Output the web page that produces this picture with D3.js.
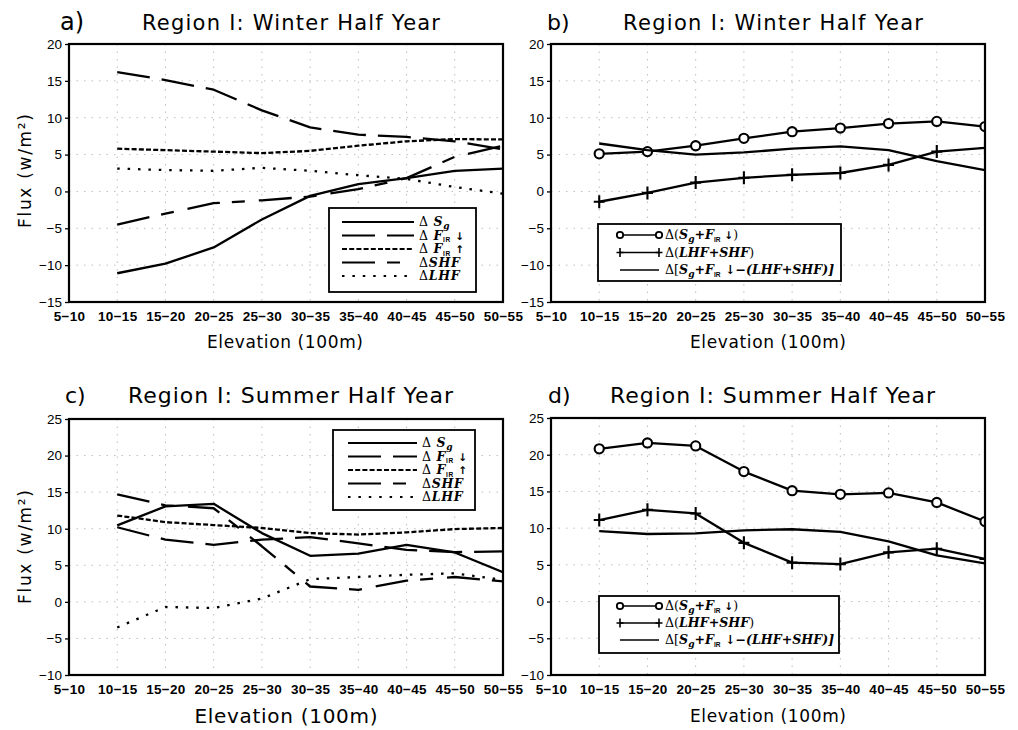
<!DOCTYPE html>
<html>
<head>
<meta charset="utf-8">
<script src="https://cdn.jsdelivr.net/npm/d3@7"></script>
<style>
  body { margin: 0; background: #fff; }
  svg { display: block; }
</style>
</head>
<body>
<svg id="chart" width="1018" height="730"></svg>
<script>
// ---- data ---------------------------------------------------------------
// Elevation bands (hundreds of metres); the series start at the second band.
const bands = ["5-10", "10-15", "15-20", "20-25", "25-30", "30-35", "35-40", "40-45", "45-50", "50-55"];
const seriesBands = bands.slice(1);

const winterTicks = [-15, -10, -5, 0, 5, 10, 15, 20];
const summerTicks = [-10, -5, 0, 5, 10, 15, 20, 25];

// Winter half year, individual flux changes (W/m2)
const winterSg      = [-11.1, -9.8, -7.6, -3.8, -0.6, 1.0, 1.8, 2.8, 3.1];
const winterFirDown = [16.2, 15.1, 13.8, 11.0, 8.7, 7.7, 7.4, 6.8, 5.7];
const winterFirUp   = [5.8, 5.6, 5.4, 5.2, 5.5, 6.2, 6.8, 7.1, 7.05];
const winterShf     = [-4.5, -3.0, -1.6, -1.2, -0.7, 0.3, 1.8, 4.7, 6.2];
const winterLhf     = [3.1, 2.9, 2.8, 3.2, 2.8, 2.2, 1.7, 0.6, -0.3];

// Winter half year, combined terms
const winterSgFir   = [5.1, 5.4, 6.2, 7.2, 8.1, 8.6, 9.2, 9.5, 8.8];
const winterTurb    = [-1.4, -0.2, 1.2, 1.85, 2.25, 2.5, 3.6, 5.4, 5.9];
const winterBalance = [6.5, 5.6, 5.0, 5.3, 5.8, 6.1, 5.6, 4.1, 2.9];

// Summer half year, individual flux changes (W/m2)
const summerSg      = [10.45, 13.05, 13.4, 9.4, 6.3, 6.6, 7.8, 6.75, 4.05];
const summerFirDown = [10.2, 8.5, 7.8, 8.5, 8.85, 8.0, 7.1, 6.8, 6.9];
const summerFirUp   = [11.8, 10.9, 10.5, 10.1, 9.4, 9.2, 9.5, 9.95, 10.1];
const summerShf     = [14.7, 13.2, 12.8, 7.6, 2.1, 1.65, 2.9, 3.4, 2.8];
const summerLhf     = [-3.5, -0.7, -0.85, 0.45, 3.1, 3.4, 3.7, 3.9, 3.0];

// Summer half year, combined terms
const summerSgFir   = [20.8, 21.6, 21.2, 17.7, 15.1, 14.6, 14.8, 13.5, 10.9];
const summerTurb    = [11.1, 12.5, 12.0, 8.0, 5.3, 5.1, 6.7, 7.2, 5.8];
const summerBalance = [9.6, 9.2, 9.3, 9.7, 9.85, 9.5, 8.2, 6.3, 5.2];

// ---- styles -------------------------------------------------------------
const sans = "'Liberation Sans', Arial, Helvetica, sans-serif";
const wide = "'DejaVu Sans', Verdana, sans-serif";
const serif = "'DejaVu Serif', 'Liberation Serif', serif";

const dashes = {
  sg: null,
  firDown: "33,12",
  firUp: "5,2.2",
  shf: "33,12,13,14",
  lhf: "2.5,7.9",
  sum: null
};

// legend labels as runs of [text, kind]
const labelSg      = [["\u0394 ", "r"], ["S", "bi"], ["g", "sub"]];
const labelFirDown = [["\u0394 ", "r"], ["F", "bi"], ["IR", "subr"], [" \u2193", "arr"]];
const labelFirUp   = [["\u0394 ", "r"], ["F", "bi"], ["IR", "subr"], [" \u2191", "arr"]];
const labelShf     = [["\u0394", "r"], ["SHF", "bi"]];
const labelLhf     = [["\u0394", "r"], ["LHF", "bi"]];
const labelSgFir   = [["\u0394(", "r"], ["S", "bi"], ["g", "sub"], ["+", "b"], ["F", "bi"], ["IR", "subr"], [" \u2193", "arr"], [")", "r"]];
const labelTurb    = [["\u0394(", "r"], ["LHF+SHF", "bi"], [")", "r"]];
const labelBalance = [["\u0394[", "r"], ["S", "bi"], ["g", "sub"], ["+", "b"], ["F", "bi"], ["IR", "subr"], [" \u2193\u2212(", "b"], ["LHF+SHF", "bi"], [")]", "b"]];

const svg = d3.select("#chart");

const panels = [
  {
    label: "a)", title: "Region I: Winter Half Year",
    box: { l: 69, r: 503, t: 44, b: 302 }, ticks: winterTicks,
    head: { lx: 60, tx: 142, y: 30, len: 298, size: 21, lsize: 24 },
    xTitle: { x: 285, y: 348, size: 17, len: 156 }, yTitle: { x: 25, y: 171 },
    kind: "terms",
    series: [
      { v: winterSg, style: "sg", label: labelSg },
      { v: winterFirDown, style: "firDown", label: labelFirDown },
      { v: winterFirUp, style: "firUp", label: labelFirUp },
      { v: winterShf, style: "shf", label: labelShf },
      { v: winterLhf, style: "lhf", label: labelLhf }
    ],
    legend: { l: 329, t: 208, r: 476, b: 292, x0: 342, x1: 414, tx: 419, y0: 222, dy: 13.5 }
  },
  {
    label: "b)", title: "Region I: Winter Half Year",
    box: { l: 551, r: 985, t: 44, b: 302 }, ticks: winterTicks,
    head: { lx: 547, tx: 623, y: 30, len: 300, size: 21, lsize: 22 },
    xTitle: { x: 768, y: 348, size: 17, len: 156 }, yTitle: null,
    kind: "sums",
    series: [
      { v: winterSgFir, style: "sum", marker: "circle", label: labelSgFir },
      { v: winterTurb, style: "sum", marker: "plus", label: labelTurb },
      { v: winterBalance, style: "sum", marker: null, label: labelBalance }
    ],
    legend: { l: 598, t: 224, r: 841, b: 281, x0: 620, x1: 659, tx: 665, y0: 235, dy: 17.5 }
  },
  {
    label: "c)", title: "Region I: Summer Half Year",
    box: { l: 69, r: 503, t: 419, b: 675 }, ticks: summerTicks,
    head: { lx: 65, tx: 128, y: 403, len: 325, size: 22, lsize: 22 },
    xTitle: { x: 286, y: 723, size: 20, len: 183 }, yTitle: { x: 25, y: 547 },
    kind: "terms",
    series: [
      { v: summerSg, style: "sg", label: labelSg },
      { v: summerFirDown, style: "firDown", label: labelFirDown },
      { v: summerFirUp, style: "firUp", label: labelFirUp },
      { v: summerShf, style: "shf", label: labelShf },
      { v: summerLhf, style: "lhf", label: labelLhf }
    ],
    legend: { l: 333, t: 430, r: 475, b: 510, x0: 348, x1: 417, tx: 422, y0: 443, dy: 13.5 }
  },
  {
    label: "d)", title: "Region I: Summer Half Year",
    box: { l: 551, r: 985, t: 418, b: 675 }, ticks: summerTicks,
    head: { lx: 548, tx: 610, y: 403, len: 325, size: 22, lsize: 22 },
    xTitle: { x: 768, y: 722, size: 17, len: 156 }, yTitle: null,
    kind: "sums",
    series: [
      { v: summerSgFir, style: "sum", marker: "circle", label: labelSgFir },
      { v: summerTurb, style: "sum", marker: "plus", label: labelTurb },
      { v: summerBalance, style: "sum", marker: null, label: labelBalance }
    ],
    legend: { l: 599, t: 596, r: 839, b: 653, x0: 620, x1: 659, tx: 665, y0: 606, dy: 17 }
  }
];

// write a legend label made of styled runs
function writeLabel(sel, runs, size) {
  let shift = 0;
  runs.forEach(([t, kind]) => {
    const ts = sel.append("tspan").text(t);
    let want = 0;
    if (kind === "r") {
      ts.attr("font-family", serif).attr("font-size", size);
    } else if (kind === "b" || kind === "bi") {
      ts.attr("font-family", serif).attr("font-weight", "bold").attr("font-style", "italic").attr("font-size", size);
    } else if (kind === "sub") {
      ts.attr("font-family", serif).attr("font-weight", "bold").attr("font-style", "italic").attr("font-size", size * 0.72);
      want = 2.5;
    } else if (kind === "subr") {
      ts.attr("font-family", sans).attr("font-weight", "bold").attr("font-size", size * 0.52);
      want = 2.5;
    } else if (kind === "arr") {
      ts.attr("font-family", wide).attr("font-weight", "bold").attr("font-size", size * 0.85);
    }
    if (want !== shift) { ts.attr("dy", want - shift); shift = want; }
  });
}

panels.forEach((p, pi) => {
  const B = p.box;
  const g = svg.append("g");
  const x = d3.scalePoint().domain(bands).range([B.l, B.r]);
  const y = d3.scaleLinear().domain([p.ticks[0], p.ticks[p.ticks.length - 1]]).range([B.b, B.t]);

  // dotted grid
  g.append("g").selectAll("line").data(bands.slice(1, -1)).join("line")
    .attr("x1", d => x(d)).attr("x2", d => x(d)).attr("y1", B.t).attr("y2", B.b)
    .attr("stroke", "#bdbdbd").attr("stroke-width", 1).attr("stroke-dasharray", "1.5,6");
  g.append("g").selectAll("line").data(p.ticks.slice(1, -1)).join("line")
    .attr("x1", B.l).attr("x2", B.r).attr("y1", d => y(d)).attr("y2", d => y(d))
    .attr("stroke", "#bdbdbd").attr("stroke-width", 1).attr("stroke-dasharray", "1.5,6");

  // axes
  const ya = g.append("g").attr("transform", `translate(${B.l},0)`)
    .call(d3.axisLeft(y).tickValues(p.ticks).tickSize(4).tickPadding(3));
  ya.select(".domain").remove();
  ya.selectAll("line").attr("stroke", "#000").attr("stroke-width", 1.3);
  ya.selectAll("text").attr("font-family", sans).attr("font-size", 13.5).attr("fill", "#000");

  const xa = g.append("g").attr("transform", `translate(0,${B.b})`)
    .call(d3.axisBottom(x).tickSize(0).tickPadding(9).tickFormat(d => d.replace("-", "\u2212")));
  xa.select(".domain").remove();
  xa.selectAll("text").attr("font-family", sans).attr("font-size", 13.5).attr("fill", "#000")
    .attr("font-weight", "bold").attr("letter-spacing", 0.3);

  // data lines, clipped to the frame
  const clipId = "clip" + pi;
  svg.append("clipPath").attr("id", clipId).append("rect")
    .attr("x", B.l).attr("y", B.t).attr("width", B.r - B.l).attr("height", B.b - B.t);
  const plot = g.append("g").attr("clip-path", `url(#${clipId})`);
  const line = d3.line().x((d, i) => x(seriesBands[i])).y(d => y(d));

  p.series.forEach(s => {
    plot.append("path").datum(s.v).attr("d", line)
      .attr("fill", "none").attr("stroke", "#000").attr("stroke-width", 2.3)
      .attr("stroke-linejoin", "round")
      .attr("stroke-dasharray", dashes[s.style]);
    if (s.marker === "circle") {
      plot.append("g").selectAll("circle").data(s.v).join("circle")
        .attr("cx", (d, i) => x(seriesBands[i])).attr("cy", d => y(d)).attr("r", 4.6)
        .attr("fill", "#fff").attr("stroke", "#000").attr("stroke-width", 2.1);
    } else if (s.marker === "plus") {
      plot.append("g").selectAll("path").data(s.v).join("path")
        .attr("transform", (d, i) => `translate(${x(seriesBands[i])},${y(d)})`)
        .attr("d", "M-5.5,0H5.5M0,-6.5V6.5")
        .attr("stroke", "#000").attr("stroke-width", 2.1);
    }
  });

  // frame
  g.append("rect").attr("x", B.l).attr("y", B.t).attr("width", B.r - B.l).attr("height", B.b - B.t)
    .attr("fill", "none").attr("stroke", "#000").attr("stroke-width", 2.2);

  // legend
  const L = p.legend;
  const lg = g.append("g");
  lg.append("rect").attr("x", L.l).attr("y", L.t).attr("width", L.r - L.l).attr("height", L.b - L.t)
    .attr("fill", "#fff").attr("stroke", "#000").attr("stroke-width", 1.8);
  p.series.forEach((s, i) => {
    const ry = L.y0 + i * L.dy;
    lg.append("line").attr("x1", L.x0).attr("x2", L.x1).attr("y1", ry).attr("y2", ry)
      .attr("stroke", "#000").attr("stroke-width", p.kind === "sums" ? 1.6 : 1.9)
      .attr("stroke-dasharray", dashes[s.style]);
    if (s.marker === "circle") {
      lg.selectAll(null).data([L.x0, L.x1]).join("circle")
        .attr("cx", d => d).attr("cy", ry).attr("r", 3.2)
        .attr("fill", "#fff").attr("stroke", "#000").attr("stroke-width", 1.8);
    } else if (s.marker === "plus") {
      lg.selectAll(null).data([L.x0, L.x1]).join("path")
        .attr("transform", d => `translate(${d},${ry})`)
        .attr("d", "M-3.5,0H3.5M0,-4.5V4.5").attr("stroke", "#000").attr("stroke-width", 1.6);
    }
    const t = lg.append("text").attr("x", L.tx).attr("y", ry + 4.2).attr("fill", "#000");
    if (p.kind === "terms") t.attr("letter-spacing", 0.7);
    writeLabel(t, s.label, p.kind === "sums" ? 12.6 : 12.5);
  });

  // headings
  g.append("text").attr("x", p.head.lx).attr("y", p.head.y).text(p.label)
    .attr("font-family", wide).attr("font-size", p.head.lsize).attr("fill", "#000");
  g.append("text").attr("x", p.head.tx).attr("y", p.head.y).text(p.title)
    .attr("font-family", wide).attr("font-size", p.head.size).attr("fill", "#000")
    .attr("textLength", p.head.len).attr("lengthAdjust", "spacing");

  g.append("text").attr("x", p.xTitle.x).attr("y", p.xTitle.y).attr("text-anchor", "middle")
    .text("Elevation (100m)").attr("font-family", wide).attr("font-size", p.xTitle.size)
    .attr("fill", "#000").attr("textLength", p.xTitle.len).attr("lengthAdjust", "spacing");

  if (p.yTitle) {
    g.append("text").attr("transform", `translate(${p.yTitle.x + 6},${p.yTitle.y}) rotate(-90)`)
      .attr("text-anchor", "middle").text("Flux (w/m\u00B2)")
      .attr("font-family", wide).attr("font-size", 17).attr("fill", "#000")
      .attr("textLength", 114).attr("lengthAdjust", "spacing");
  }
});
</script>
</body>
</html>
